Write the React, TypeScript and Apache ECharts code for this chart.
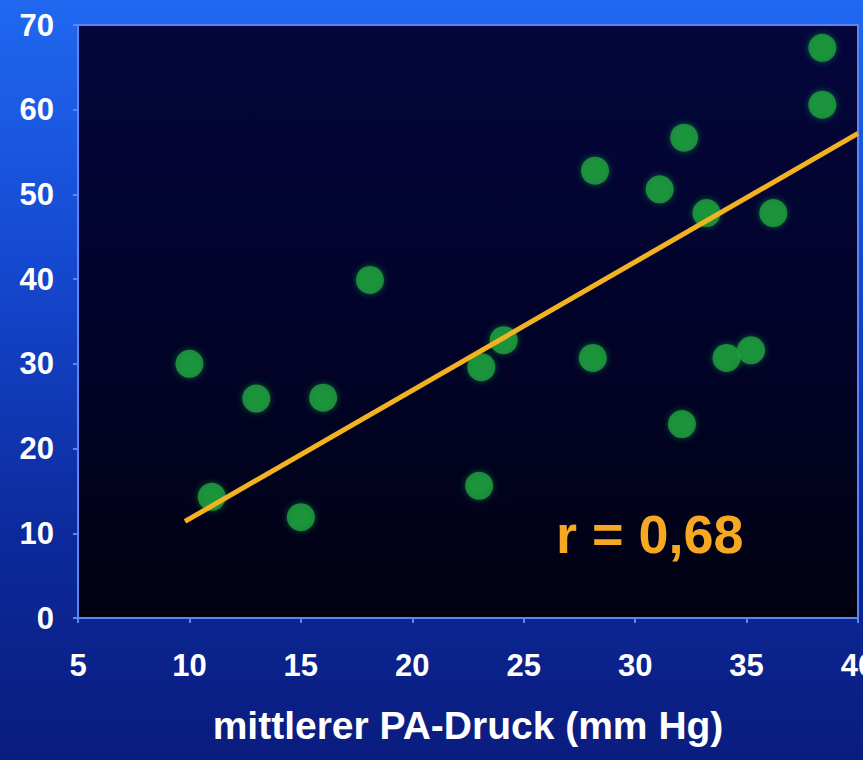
import React, { useEffect, useRef } from "react";
import * as echarts from "echarts";

// Data
const paPressure: number[] = [10, 11, 13, 15, 16, 18.1, 23, 23.1, 24.1, 28.1, 28.2, 31.1, 32.2, 32.1, 33.2, 34.1, 35.2, 36.2, 38.4, 38.4];
const yValues: number[] = [30, 14.3, 25.9, 11.9, 26, 39.9, 15.6, 29.6, 32.8, 30.7, 52.8, 50.6, 56.7, 22.9, 47.8, 30.7, 31.6, 47.8, 67.3, 60.6];
const regressionX: number[] = [9.8, 40];
const regressionY: number[] = [11.4, 57.2];
const xTicks = { min: 5, max: 40, interval: 5 };
const yTicks = { min: 0, max: 70, interval: 10 };
const xAxisTitle = "mittlerer PA-Druck (mm Hg)";
const rLabel = "r = 0,68";

export default function App() {
  const ref = useRef<HTMLDivElement>(null);
  useEffect(() => {
    if (!ref.current) return;
    const chart = echarts.init(ref.current, null, { renderer: "svg" });
    const font = "'Liberation Sans', Arial, sans-serif";
    const points = paPressure.map((x, i) => [x, yValues[i]]);
    const line = regressionX.map((x, i) => [x, regressionY[i]]);
    chart.setOption({
      animation: false,
      backgroundColor: new echarts.graphic.LinearGradient(0, 0, 0, 1, [
        { offset: 0, color: "#2068f0" },
        { offset: 0.35, color: "#1548d0" },
        { offset: 0.7, color: "#0c2a9c" },
        { offset: 1, color: "#0a1c7e" },
      ]),
      grid: {
        left: 78,
        top: 25,
        right: 5,
        bottom: 142,
        outerBoundsMode: "none",
        containLabel: false,
        show: true,
        backgroundColor: new echarts.graphic.LinearGradient(0, 0, 0, 1, [
          { offset: 0, color: "#04063c" },
          { offset: 0.5, color: "#02032a" },
          { offset: 1, color: "#010112" },
        ]),
        borderColor: "#5b85f2",
        borderWidth: 2,
      },
      xAxis: {
        type: "value",
        min: xTicks.min,
        max: xTicks.max,
        interval: xTicks.interval,
        splitLine: { show: false },
        axisLine: { show: true, lineStyle: { color: "#5b85f2", width: 2 } },
        axisTick: { show: true, length: 5, lineStyle: { color: "#5b85f2", width: 2 } },
        axisLabel: {
          color: "#ffffff",
          fontSize: 31,
          fontWeight: "bold",
          fontFamily: font,
          margin: 32,
        },
        name: xAxisTitle,
        nameLocation: "middle",
        nameGap: 88,
        nameTextStyle: {
          color: "#ffffff",
          fontSize: 39,
          fontWeight: "bold",
          fontFamily: font,
        },
      },
      yAxis: {
        type: "value",
        min: yTicks.min,
        max: yTicks.max,
        interval: yTicks.interval,
        splitLine: { show: false },
        axisLine: { show: true, lineStyle: { color: "#5b85f2", width: 2 } },
        axisTick: { show: true, length: 5, lineStyle: { color: "#5b85f2", width: 2 } },
        axisLabel: {
          color: "#ffffff",
          fontSize: 31,
          fontWeight: "bold",
          fontFamily: font,
          margin: 24,
        },
      },
      series: [
        {
          type: "scatter",
          data: points,
          symbolSize: 28,
          itemStyle: {
            color: "#21a23f",
            shadowBlur: 6,
            shadowColor: "rgba(30,160,60,0.7)",
          },
          z: 2,
        },
        {
          type: "line",
          data: line,
          symbol: "none",
          lineStyle: { color: "#f3b21f", width: 5 },
          z: 3,
        },
      ],
      graphic: [
        {
          type: "text",
          left: 556,
          top: 507,
          style: {
            text: rLabel,
            fill: "#f7a823",
            fontSize: 54,
            fontWeight: "bold",
            fontFamily: font,
          },
          z: 10,
        },
      ],
    });
    return () => chart.dispose();
  }, []);
  return (
    <div
      ref={ref}
      style={{ position: "fixed", left: 0, top: 0, width: 863, height: 760 }}
    />
  );
}
